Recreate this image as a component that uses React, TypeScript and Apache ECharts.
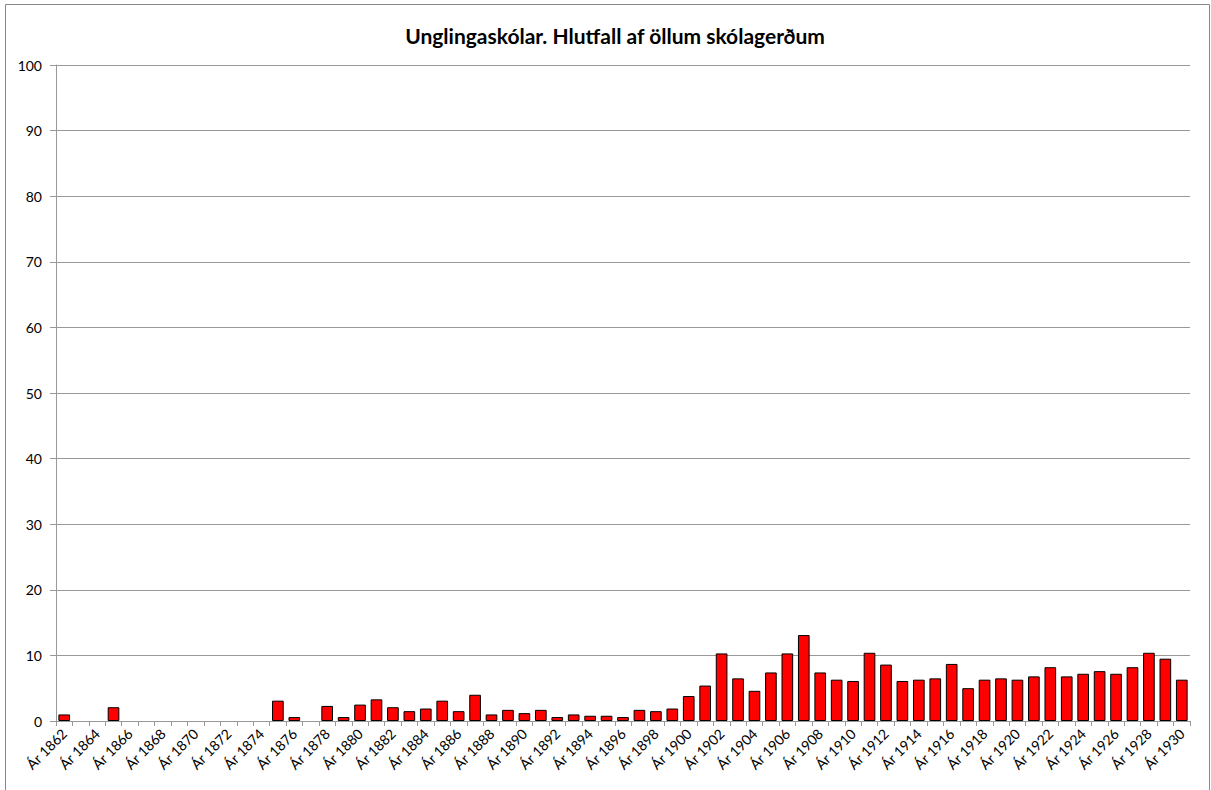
import React, { useEffect, useRef } from "react";
import * as echarts from "echarts";

const years: number[] = [];
for (let y = 1862; y <= 1930; y++) years.push(y);
const categories = years.map((y) => "Ár " + y);

const values = [
  1.0, 0, 0, 2.1, 0, 0, 0, 0, 0, 0, 0, 0, 0, 3.1, 0.6, 0, 2.3, 0.6, 2.5, 3.3,
  2.1, 1.5, 1.9, 3.1, 1.5, 4.0, 1.0, 1.7, 1.2, 1.7, 0.6, 1.0, 0.8, 0.8, 0.6,
  1.7, 1.5, 1.9, 3.8, 5.4, 10.3, 6.5, 4.6, 7.4, 10.3, 13.1, 7.4, 6.3, 6.1, 10.4,
  8.6, 6.1, 6.3, 6.5, 8.7, 5.0, 6.3, 6.5, 6.3, 6.8, 8.2, 6.8, 7.2, 7.6, 7.2,
  8.2, 10.4, 9.5, 6.3,
];

const titleText = "Unglingaskólar. Hlutfall af öllum skólagerðum";
const font = "Lato, 'Open Sans', 'Noto Sans', sans-serif";

export default function App() {
  const ref = useRef<HTMLDivElement>(null);
  useEffect(() => {
    if (!ref.current) return;
    const chart = echarts.init(ref.current, null, { renderer: "svg" });
    chart.setOption({
      animation: false,
      backgroundColor: "#ffffff",
      textStyle: { fontFamily: font },
      title: {
        text: titleText,
        left: 610,
        top: 20,
        textAlign: "center",
        textStyle: { fontSize: 21, fontWeight: "bold", color: "#000", fontFamily: font },
      },
      graphic: [
        {
          type: "rect",
          shape: { x: 5.5, y: 4.5, width: 1204, height: 800 },
          style: { fill: "none", stroke: "#888888", lineWidth: 1 },
          silent: true,
        },
      ],
      grid: { left: 56, top: 65, width: 1134, height: 656, containLabel: false },
      xAxis: {
        type: "category",
        data: categories,
        boundaryGap: true,
        axisLine: { show: true, lineStyle: { color: "#999999", width: 1 } },
        axisTick: { show: true, alignWithLabel: false, interval: 0, length: 5, lineStyle: { color: "#999999" } },
        axisLabel: {
          interval: 1,
          rotate: 45,
          fontSize: 14,
          color: "#000",
          margin: 10,
          fontFamily: font,
        },
      },
      yAxis: {
        type: "value",
        min: 0,
        max: 100,
        interval: 10,
        axisLine: { show: true, lineStyle: { color: "#999999", width: 1 } },
        axisTick: { show: true, length: 6, lineStyle: { color: "#999999" } },
        axisLabel: { fontSize: 14, color: "#000", margin: 14, fontFamily: font },
        splitLine: { show: true, lineStyle: { color: "#999999", width: 1 } },
      },
      series: [
        {
          type: "bar",
          data: values.map((v) => (v === 0 ? { value: v, itemStyle: { borderWidth: 0, opacity: 0 } } : v)),
          barCategoryGap: "29%",
          itemStyle: { color: "#ff0000", borderColor: "#000000", borderWidth: 1 },
        },
      ],
    });
    return () => chart.dispose();
  }, []);
  return (
    <div
      ref={ref}
      style={{ position: "absolute", left: 0, top: 0, width: 1211, height: 790 }}
    />
  );
}
